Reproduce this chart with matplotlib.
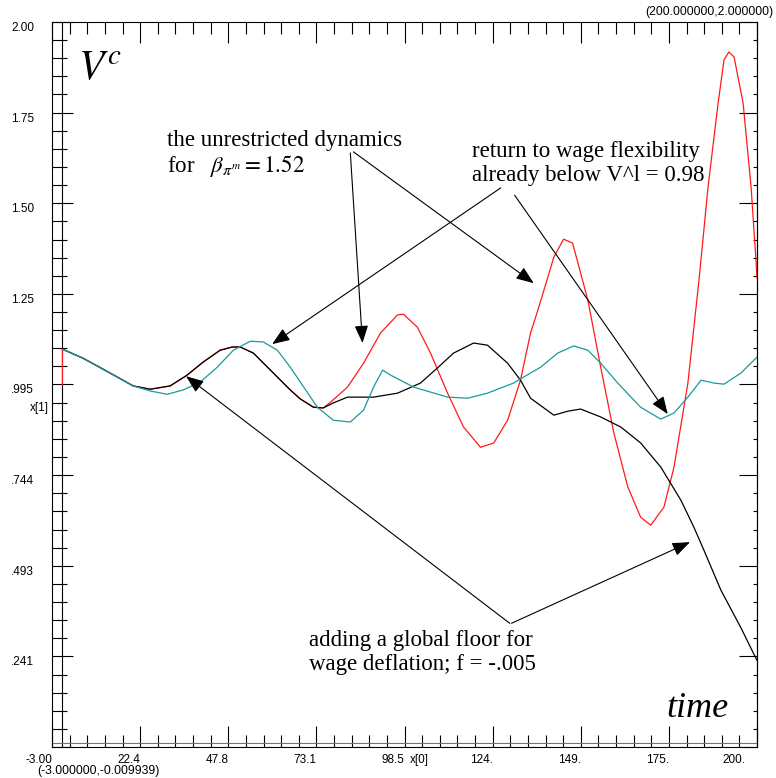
import matplotlib
matplotlib.use("Agg")
import matplotlib.pyplot as plt
import matplotlib.transforms as mtransforms
import numpy as np

plt.rcParams['font.family'] = ['Liberation Sans', 'DejaVu Sans']
plt.rcParams['mathtext.fontset'] = 'stix'

# --- data ----------------------------------------------------------------
# wage flexibility returns (teal)
t_teal = [0, 5.9, 13.7, 20.4, 25.3, 30.2, 34.8, 39.7, 44.6, 49.2, 54.1, 57.8,
          61.9, 65.6, 68.5, 73.4, 78.0, 82.9, 86.7, 89.6, 92.2, 94.5, 101.1,
          110.9, 116.7, 122.4, 129.9, 134.8, 137.7, 142.6, 147.2, 151.3, 155.0,
          159.9, 166.5, 172.3, 176.1, 180.1, 183.9, 187.6, 190.5, 195.4, 200.0]
v_teal = [1.093, 1.068, 1.027, 0.991, 0.977, 0.968, 0.980, 1.002, 1.043, 1.090,
          1.115, 1.113, 1.090, 1.043, 1.002, 0.932, 0.896, 0.891, 0.924, 0.988,
          1.035, 1.021, 0.988, 0.960, 0.957, 0.971, 0.999, 1.027, 1.043, 1.082,
          1.102, 1.090, 1.054, 0.999, 0.932, 0.899, 0.916, 0.960, 1.007, 0.999,
          0.996, 1.027, 1.071]

# global floor for wage deflation (black)
t_black = [0, 5.9, 13.7, 20.4, 25.3, 31.0, 35.9, 40.5, 45.4, 48.9, 51.2, 55.0,
           59.9, 65.6, 68.5, 72.3, 75.1, 78.0, 82.1, 89.6, 96.5, 103.1, 108.0,
           112.6, 118.4, 122.4, 128.2, 131.9, 134.8, 141.5, 145.5, 149.2, 155.0,
           160.8, 166.5, 172.3, 178.1, 181.8, 184.7, 189.6, 195.4, 200.0]
v_black = [1.093, 1.068, 1.027, 0.991, 0.982, 0.991, 1.021, 1.057, 1.090, 1.099,
           1.099, 1.082, 1.035, 0.980, 0.955, 0.932, 0.930, 0.944, 0.960, 0.960,
           0.971, 0.999, 1.041, 1.082, 1.110, 1.104, 1.054, 1.007, 0.957, 0.910,
           0.921, 0.927, 0.905, 0.877, 0.833, 0.766, 0.674, 0.600, 0.536, 0.425,
           0.320, 0.230]

# unrestricted dynamics (red)
t_red = [0, 0, 5.9, 13.7, 20.4, 25.3, 31.0, 35.9, 40.5, 45.4, 48.9, 51.2, 55.0,
         59.9, 65.6, 68.5, 72.3, 75.1, 77.2, 82.1, 86.7, 91.6, 96.5, 98.2, 102.2,
         106.0, 110.9, 115.5, 120.4, 124.2, 128.2, 131.9, 134.8, 136.9, 141.5,
         144.3, 146.9, 151.3, 155.0, 158.8, 162.8, 166.5, 169.4, 173.2, 176.1,
         180.1, 183.3, 185.9, 188.8, 190.5, 191.9, 193.4, 196.0, 198.3, 199.7, 200.0]
v_red = [0.995, 1.093, 1.068, 1.027, 0.991, 0.982, 0.991, 1.021, 1.057, 1.090,
         1.099, 1.099, 1.082, 1.035, 0.980, 0.955, 0.932, 0.930, 0.946, 0.988,
         1.054, 1.138, 1.188, 1.190, 1.154, 1.082, 0.971, 0.877, 0.821, 0.833,
         0.896, 1.007, 1.138, 1.201, 1.348, 1.398, 1.387, 1.229, 1.043, 0.860,
         0.711, 0.627, 0.605, 0.655, 0.766, 0.999, 1.285, 1.542, 1.775, 1.895,
         1.917, 1.903, 1.775, 1.542, 1.340, 1.290]

x_ticks = [-3.0, 22.375, 47.75, 73.125, 98.5, 123.875, 149.25, 174.625, 200.0]
x_labels = ['-3.00', '22.4', '47.8', '73.1', '98.5', '124.', '149.', '175.', '200.']
y_ticks = [-0.009939, 0.241303, 0.492546, 0.743788, 0.995031,
           1.246273, 1.497515, 1.748758, 2.0]
y_labels = ['', '.241', '.493', '.744', '.995', '1.25', '1.50', '1.75', '2.00']

# --- figure ---------------------------------------------------------------
fig = plt.figure(figsize=(7.76, 7.78), dpi=100)
ax = fig.add_axes([52 / 776, 31 / 778, 705 / 776, 725 / 778])
ax.set_xlim(x_ticks[0], x_ticks[-1])
ax.set_ylim(y_ticks[0], y_ticks[-1])

ax.axvline(0, color='k', lw=0.8)
ax.axhline(0, color='0.45', lw=0.8)

ax.plot(t_red, v_red, color='#ff1a1a', lw=0.9)
ax.plot(t_black, v_black, color='k', lw=0.9)
ax.plot(t_teal, v_teal, color='#1a9a9a', lw=0.9)

# ticks
x_minor = np.linspace(x_ticks[0], x_ticks[-1], 41)
y_minor = np.linspace(y_ticks[0], y_ticks[-1], 41)
ax.set_xticks(x_ticks, x_labels)
ax.set_xticks(x_minor, minor=True)
ax.set_yticks(y_ticks, y_labels)
ax.set_yticks(y_minor, minor=True)
ax.tick_params(which='both', direction='in', top=True, right=False,
               width=0.8, labelsize=8.5)
ax.tick_params(axis='x', which='major', length=15, pad=5)
ax.tick_params(axis='x', which='minor', length=8.5)
ax.tick_params(axis='y', which='major', length=15, pad=13)
ax.tick_params(axis='y', which='minor', length=10.5)
for lab in ax.get_yticklabels():
    lab.set_verticalalignment('top')
xl = ax.get_xticklabels()
for lab in xl:
    lab.set_horizontalalignment('right')
xl[-1].set_transform(xl[-1].get_transform() +
                     mtransforms.ScaledTranslation(-12 / 100, 0, fig.dpi_scale_trans))

sec = ax.secondary_yaxis('right')
sec.set_yticks(y_ticks, [''] * len(y_ticks))
sec.set_yticks(y_minor, minor=True)
sec.tick_params(which='both', direction='in', width=0.8)
sec.tick_params(which='major', length=13)
sec.tick_params(which='minor', length=3)

for s in list(ax.spines.values()) + [sec.spines['right']]:
    s.set_linewidth(0.8)

# corner / axis name labels
fig.text(49 / 776, 1 - 408 / 778, 'x[1]', fontsize=8.5, ha='right', va='center')
fig.text(410 / 776, 1 - 760 / 778, 'x[0]', fontsize=8.5, ha='left', va='center')
fig.text(37 / 776, 1 - 771 / 778, '(-3.000000,-0.009939)', fontsize=8.8,
         ha='left', va='center')
fig.text(773 / 776, 1 - 12 / 778, '(200.000000,2.000000)', fontsize=8.8,
         ha='right', va='center')

# big labels
serif = ['Liberation Serif', 'DejaVu Serif']
ax.text(0.037, 0.92, r'$V^c$', fontsize=30, transform=ax.transAxes,
        va='baseline')
ax.text(0.872, 0.041, 'time', fontsize=26, style='italic', family=serif,
        transform=ax.transAxes, va='baseline')

# annotation texts
txt = dict(fontsize=16.5, family=serif, transform=ax.transAxes, va='baseline')
ax.text(0.163, 0.829, 'the unrestricted dynamics', **txt)
ax.text(0.163, 0.793, r'for   $\beta_{\pi^m} = 1.52$', **txt)
ax.text(0.596, 0.814, 'return to wage flexibility', **txt)
ax.text(0.596, 0.781, 'already below V^l = 0.98', **txt)
ax.text(0.3645, 0.139, 'adding a global floor for', **txt)
ax.text(0.3645, 0.106, 'wage deflation; f = -.005', **txt)

# arrows (tip, tail) in data coordinates
arrows = [((86.4, 1.110), (82.9, 1.637)),
          ((135.7, 1.276), (83.8, 1.640)),
          ((60.4, 1.107), (126.2, 1.540)),
          ((174.3, 0.913), (130.2, 1.520)),
          ((35.6, 1.018), (128.8, 0.333)),
          ((180.7, 0.558), (129.3, 0.333))]
for tip, tail in arrows:
    ax.annotate('', xy=tip, xytext=tail,
                arrowprops=dict(arrowstyle='-|>,head_length=0.9,head_width=0.35',
                                color='k', lw=0.8, shrinkA=0, shrinkB=0,
                                mutation_scale=12))

fig.savefig('out.png', dpi=100)
